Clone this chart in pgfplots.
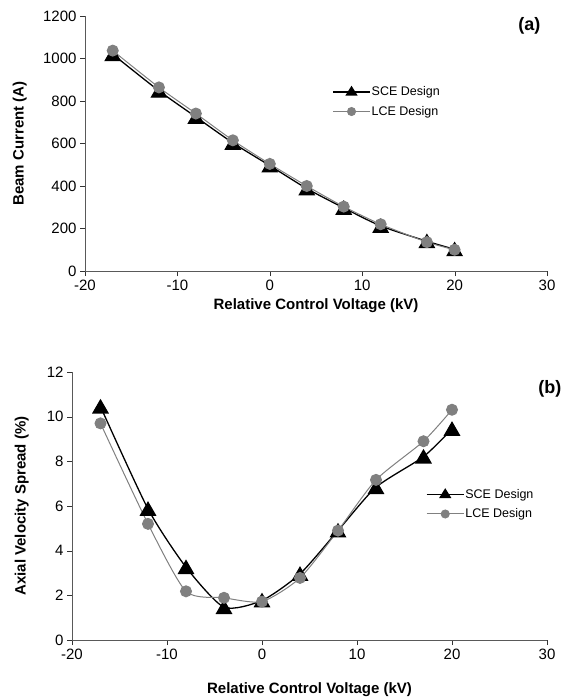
\documentclass[border=0pt]{standalone}
\usepackage{fontspec}
\setmainfont{Liberation Sans}
\usepackage{pgfplots}
\pgfplotsset{compat=1.18}

\definecolor{lcegray}{RGB}{128,128,128}

\pgfplotsset{
  excel/.style={
    scale only axis, clip=false,
    axis x line*=bottom, axis y line*=left,
    axis line style={-, black!65},
    tick style={black!80, major tick length=5pt},
    tick align=outside,
    xmin=-20, xmax=30, xtick={-20,-10,...,30},
    ymin=0,
    /pgf/number format/assume math mode=true,
    /pgf/number format/1000 sep={},
    tick label style={font=\fontsize{15}{17}\selectfont},
    label style={font=\bfseries\fontsize{15}{17}\selectfont},
    legend style={draw=none, fill=none, font=\fontsize{12.5}{14}\selectfont,
      row sep=9pt, inner sep=0pt, nodes={inner xsep=1pt, inner ysep=0pt}},
    legend cell align=left,
  },
  sce/.style={black, line width=1.3pt, smooth, tension=0.4, mark=triangle*,
    mark size=8.5pt, mark options={solid, fill=black, yshift=-2pt}},
  lce/.style={lcegray, line width=1pt, smooth, tension=0.4, mark=*,
    mark size=5.5pt, mark options={solid, fill=lcegray, draw=lcegray}},
  sceleg/.style={legend image code/.code={
    \draw[black, line width=1.3pt] (0pt,0pt) -- (37pt,0pt);
    \fill[black] (18.5pt,5pt) -- (23.5pt,-3pt) -- (13.5pt,-3pt) -- cycle;}},
  lceleg/.style={legend image code/.code={
    \draw[lcegray, line width=1pt] (0pt,0pt) -- (37pt,0pt);
    \fill[lcegray] (18.5pt,0pt) circle (4pt);}},
}

\begin{document}
\begin{tikzpicture}
\path[use as bounding box] (0,0) rectangle (575pt,-700pt);

% (a) beam current
\begin{axis}[excel,
  at={(85pt,-271pt)}, anchor=south west,
  width=462pt, height=255pt,
  ymax=1200, ytick={0,200,...,1200},
  xlabel={Relative Control Voltage (kV)},
  ylabel={Beam Current (A)},
  x label style={at={(axis description cs:0.5,-0.135)}, anchor=center},
  y label style={at={(axis description cs:-0.141,0.5)}, anchor=center},
  legend style={at={(axis description cs:0.535,0.725)}, anchor=north west},
]
\addplot[sce, sceleg] coordinates {
(-17,1020) (-12,848) (-8,725) (-4,603) (0,496) (4,388) (8,297) (12,212) (17,140) (20,102)
};
\addlegendentry{SCE Design}
\addplot[lce, lceleg] coordinates {
(-17,1037) (-12,864) (-8,741) (-4,615) (0,504) (4,400) (8,303) (12,220) (17,136) (20,100)
};
\addlegendentry{LCE Design}
\node[font=\bfseries\fontsize{18}{20}\selectfont] at (axis description cs:0.962,0.96) {(a)};
\end{axis}

% (b) axial velocity spread
\begin{axis}[excel,
  at={(72pt,-640pt)}, anchor=south west,
  width=475pt, height=268pt,
  ymax=12, ytick={0,2,...,12},
  xlabel={Relative Control Voltage (kV)},
  ylabel={Axial Velocity Spread (\%)},
  x label style={at={(axis description cs:0.5,-0.185)}, anchor=center},
  y label style={at={(axis description cs:-0.106,0.5)}, anchor=center},
  legend style={at={(axis description cs:0.745,0.565)}, anchor=north west},
]
\addplot[sce, sceleg] coordinates {
(-17,10.45) (-12,5.87) (-8,3.26) (-4,1.47) (0,1.77) (4,2.96) (8,4.9) (12,6.84) (17,8.21) (20,9.45)
};
\addlegendentry{SCE Design}
\addplot[lce, lceleg] coordinates {
(-17,9.7) (-12,5.2) (-8,2.18) (-4,1.89) (0,1.72) (4,2.78) (8,4.9) (12,7.17) (17,8.9) (20,10.31)
};
\addlegendentry{LCE Design}
\node[font=\bfseries\fontsize{18}{20}\selectfont] at (axis description cs:1.006,0.937) {(b)};
\end{axis}
\end{tikzpicture}
\end{document}
